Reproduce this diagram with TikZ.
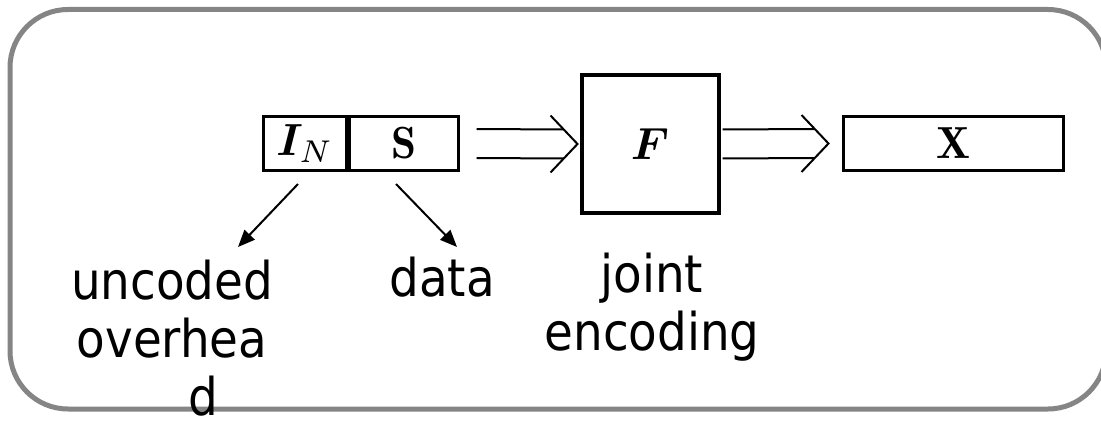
\documentclass[tikz,border=0pt]{standalone}
\usepackage{fontspec}
\usepackage{amsmath,bm}
\newfontfamily\labelfont{DejaVu Sans Condensed}
\usetikzlibrary{arrows.meta,calc}
\definecolor{framegray}{HTML}{858585}
\newcommand\bigmath[1]{\scalebox{4.5}{$#1$}}
\tikzset{
  outerframe/.style={draw=framegray, line width=5pt, rounded corners=58pt},
  cell/.style={draw, line width=3pt, inner sep=0pt, minimum height=54pt},
  bigbox/.style={draw, line width=4pt, inner sep=0pt, minimum width=137pt,
    minimum height=138pt},
  conn/.style={line width=2pt},
  pointer/.style={line width=2pt, -{Triangle[length=17pt,width=14pt]}},
  lab/.style={font=\labelfont\fontsize{52}{58}\selectfont, inner sep=0pt, align=center, anchor=base}
}
\begin{document}
\begin{tikzpicture}[x=1pt,y=-1pt]
\useasboundingbox (0,0) rectangle (1101,422);
\clip (0,0) rectangle (1101,422);
\fill[white] (0,0) rectangle (1101,422);
\draw[outerframe] (10,9.5) -- (1106,9.5) -- (1106,409) -- (10,409) -- cycle;

\node[cell, minimum width=83pt] (in) at (305,143.5) {\bigmath{\bm{I}_N}};
\node[cell, minimum width=109pt, anchor=west] (s) at (in.east) {\bigmath{\mathbf{S}}};
\node[bigbox] (f) at (650,144) {\bigmath{\bm{F}}};
\node[cell, minimum width=220pt] (x) at (953.5,143.5) {\bigmath{\mathbf{X}}};

% double arrow 1
\coordinate (t1) at ($(f.west)+(-2,0)$);
\draw[conn] ($(s.east)+(16.5,-14.5)$) -- ($(t1)+(-13.7,-14.5)$);
\draw[conn] ($(s.east)+(16.5,14.5)$) -- ($(t1)+(-13.7,14.5)$);
\draw[conn] ($(t1)+(-27,-28.5)$) -- (t1) -- ($(t1)+(-27,28.5)$);

% double arrow 2
\coordinate (t2) at ($(x.west)+(-13.5,0)$);
\draw[conn] ($(f.east)+(2,-14.5)$) -- ($(t2)+(-13.7,-14.5)$);
\draw[conn] ($(f.east)+(2,14.5)$) -- ($(t2)+(-13.7,14.5)$);
\draw[conn] ($(t2)+(-27,-28.5)$) -- (t2) -- ($(t2)+(-27,28.5)$);

% labels (base = baseline of last line)
\node[lab] (ovh) at (172,415) {uncoded\\overhea\\\hspace*{62pt}d};
\node[lab] (dat) at (442,297) {data};
\node[lab] (enc) at (652,350) {joint\\encoding};

% pointers
\coordinate (p1) at (238,247);
\coordinate (p2) at (457,247);
\draw[pointer] ($(in.south)+(-7,12)$) -- (p1);
\draw[pointer] ($(s.south)+(-8,12)$) -- (p2);
\end{tikzpicture}
\end{document}
